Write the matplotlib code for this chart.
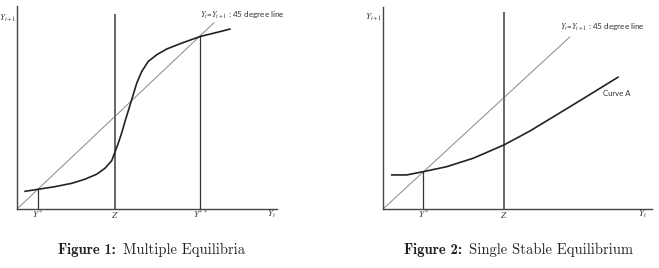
import matplotlib.pyplot as plt
import numpy as np

# ---- data (in the chart's own units) ----
# Figure 1: multiple equilibria (S-shaped curve)
s_x = [0.41, 1.08, 1.93, 2.78, 3.45, 4.05, 4.47, 4.81, 4.97, 5.14, 5.31, 5.48,
       5.82, 6.08, 6.33, 6.66, 7.09, 7.60, 8.27, 9.29, 10.14, 10.81]
s_y = [0.95, 1.06, 1.20, 1.38, 1.60, 1.87, 2.19, 2.60, 3.05, 3.53, 4.07, 4.69,
       5.86, 6.76, 7.38, 7.92, 8.28, 8.59, 8.87, 9.26, 9.48, 9.66]
ystar1 = 1.08
z1 = 4.97
z1_top = 10.43
ystarstar1 = 9.29
line45_1 = [0, 10.0]

# Figure 2: single stable equilibrium (curve A)
a_x = [0.47, 1.27, 2.16, 3.41, 4.83, 6.47, 7.86, 9.29, 10.89, 12.58]
a_y = [1.98, 1.98, 2.17, 2.46, 2.95, 3.72, 4.53, 5.47, 6.53, 7.66]
ystar2 = 2.16
z2 = 6.47
z2_top = 11.4
line45_2 = [0, 10.0]

W, H = 659, 268
fig = plt.figure(figsize=(W / 100, H / 100), dpi=100)

lab45 = r"$Y_t$=$Y_{t+1}$ : 45 degree line"
small = dict(fontsize=6.5, color="#333333", math_fontfamily="stix")


def make_axes(left, right, top, bottom, xmax, ymax):
    ax = fig.add_axes([left / W, 1 - bottom / H, (right - left) / W, (bottom - top) / H])
    ax.set_xlim(0, xmax)
    ax.set_ylim(0, ymax)
    for s in ["top", "right"]:
        ax.spines[s].set_visible(False)
    for s in ["left", "bottom"]:
        ax.spines[s].set_color("#444444")
        ax.spines[s].set_linewidth(1.0)
    ax.set_xticks([])
    ax.set_yticks([])
    return ax


def caption(x_split, bold, rest):
    fig.text((x_split - 3) / W, 1 - 250 / H, bold, ha="right", va="center",
             fontsize=10.5, family="cmb10", color="#222222")
    fig.text((x_split + 4) / W, 1 - 250 / H, rest, ha="left", va="center",
             fontsize=10.5, family="cmr10", color="#222222")


# ---------- Figure 1 ----------
ax1 = make_axes(17, 277, 6, 209, 13.2, 10.9)
ax1.plot(line45_1, line45_1, color="#888888", lw=0.7)
ax1.plot([z1, z1], [0, z1_top], color="#666666", lw=1.4)
ax1.plot([ystar1, ystar1], [0, ystar1], color="#333333", lw=0.9)
ax1.plot([ystarstar1, ystarstar1], [0, ystarstar1], color="#333333", lw=0.9)
ax1.plot(s_x, s_y, color="#222222", lw=1.2, solid_joinstyle="round")
ax1.text(9.3, 10.43, lab45, ha="left", va="center", fontsize=5.9,
         family="Lato", color="#333333", math_fontfamily="stix")
for xv, t in [(ystar1, r"$Y^*$"), (z1, r"$Z$"), (ystarstar1, r"$Y^{**}$"), (12.9, r"$Y_t$")]:
    ax1.text(xv, -0.3, t, ha="center", va="center", clip_on=False, **small)
ax1.text(-0.05, 10.3, r"$Y_{t+1}$", ha="right", va="center", clip_on=False, **small)
caption(119, "Figure 1:", "Multiple Equilibria")

# ---------- Figure 2 ----------
ax2 = make_axes(383, 652, 7, 209, 14.4, 11.74)
ax2.plot(line45_2, line45_2, color="#888888", lw=0.7)
ax2.plot([z2, z2], [0, z2_top], color="#666666", lw=1.4)
ax2.plot([ystar2, ystar2], [0, ystar2], color="#333333", lw=0.9)
ax2.plot(a_x, a_y, color="#222222", lw=1.2, solid_joinstyle="round")
ax2.text(9.5, 10.58, lab45, ha="left", va="center", fontsize=5.9,
         family="Lato", color="#333333", math_fontfamily="stix")
ax2.text(11.76, 6.69, "Curve A", ha="left", va="center", fontsize=5.6,
         family="Lato", color="#333333")
for xv, t in [(ystar2, r"$Y^*$"), (z2, r"$Z$"), (13.9, r"$Y_t$")]:
    ax2.text(xv, -0.32, t, ha="center", va="center", clip_on=False, **small)
ax2.text(-0.05, 11.2, r"$Y_{t+1}$", ha="right", va="center", clip_on=False, **small)
caption(465, "Figure 2:", "Single Stable Equilibrium")

fig.savefig("out.png", dpi=100)
